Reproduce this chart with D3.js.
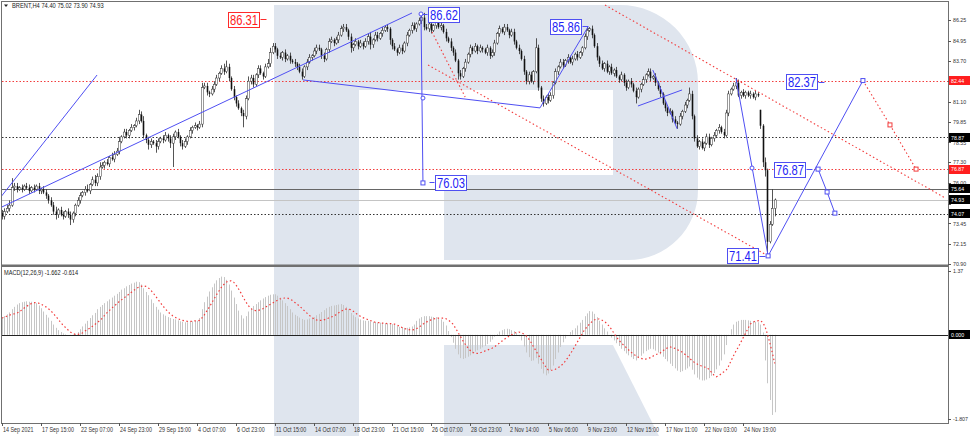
<!DOCTYPE html>
<html>
<head>
<meta charset="utf-8">
<script src="https://cdnjs.cloudflare.com/ajax/libs/d3/7.8.5/d3.min.js"></script>
<style>
html,body{margin:0;padding:0;background:#fff;}
svg{display:block;font-family:"Liberation Sans",Arial,sans-serif;}
</style>
</head>
<body>
<svg id="chart" width="973" height="436"></svg>
<script>
// ---------- DATA ----------
const symbol = "BRENT,H4";
const closes = [
73.9,74.2,74.4,74.6,75.7,75.8,75.6,75.7,75.6,75.8,
75.7,75.5,75.7,75.6,75.8,75.5,75.6,75.4,75.2,74.9,
74.6,74.2,74.0,74.3,74.0,73.9,74.2,74.0,73.7,74.1,
74.6,74.9,75.2,75.4,75.6,75.5,75.9,76.2,76.0,76.4,
77.0,77.1,77.3,77.2,77.6,77.5,77.8,78.0,78.6,78.9,
79.2,79.0,79.3,79.5,79.6,79.9,80.3,79.9,79.0,78.7,
78.4,78.6,78.5,78.3,78.6,78.8,78.7,79.0,78.8,78.5,
78.9,79.2,78.9,78.5,78.3,78.6,78.9,79.3,79.5,79.6,
79.5,79.7,82.0,82.1,81.7,81.6,81.9,82.2,82.6,82.9,
83.2,83.0,83.3,82.6,81.9,81.4,81.0,80.7,80.4,80.2,
81.3,82.4,82.6,82.2,82.8,83.2,82.9,82.7,83.3,83.5,
84.2,84.6,84.4,84.0,83.9,84.2,83.8,84.0,83.7,83.6,
83.5,83.3,83.0,82.7,83.3,83.6,83.9,84.0,84.3,84.5,
84.4,84.0,83.8,84.4,84.9,85.0,84.8,85.0,85.3,85.7,
85.8,85.6,85.2,84.5,84.7,84.9,84.6,84.8,84.6,84.9,
85.2,84.7,85.0,85.3,85.1,85.4,85.6,85.8,85.7,85.0,
84.6,84.4,84.2,84.5,84.3,84.8,85.3,85.6,85.9,85.7,
86.0,86.2,86.4,85.8,85.7,86.0,85.6,85.9,86.1,85.8,
85.9,85.5,85.1,84.9,84.5,84.2,83.7,82.9,82.7,83.2,
83.6,84.1,84.5,84.3,84.6,84.3,84.5,84.4,84.2,84.5,
84.0,84.2,84.8,85.4,85.7,85.5,85.8,85.6,85.3,85.5,
84.9,84.5,84.3,83.8,83.0,82.4,82.8,82.4,83.0,84.5,
82.0,81.3,81.0,81.4,81.2,81.5,82.3,83.0,83.3,83.6,
83.4,83.7,83.9,83.6,83.8,84.1,83.9,84.2,84.5,85.2,
85.6,85.7,85.3,84.6,83.9,83.5,83.2,83.5,83.0,83.3,
82.9,83.1,82.7,82.5,82.8,82.3,82.0,82.4,82.2,81.8,
81.4,81.9,82.2,82.5,82.8,83.0,82.6,82.7,82.3,81.9,
81.6,81.0,80.7,80.4,80.5,80.0,79.8,79.7,80.2,80.5,
80.9,81.2,81.6,80.2,78.8,78.3,78.6,78.2,78.5,78.9,
78.4,78.8,79.0,79.3,79.5,79.2,79.0,80.4,81.6,81.9,
82.1,82.3,81.5,81.7,81.5,81.7,81.5,81.6,81.4,81.6,
81.5,79.6,77.3,76.8,72.3,73.4,74.4,74.93];
const upWicks = [
0.2,0.2,0.2,0.3,0.6,0.2,0.2,0.1,0.2,0.1,
0.2,0.2,0.1,0.2,0.1,0.2,0.1,0.2,0.2,0.1,
0.2,0.2,0.3,0.1,0.2,0.2,0.1,0.2,0.2,0.1,
0.1,0.2,0.2,0.1,0.2,0.3,0.1,0.2,0.3,0.2,
0.3,0.2,0.1,0.2,0.1,0.3,0.2,0.2,0.3,0.1,
0.2,0.2,0.1,0.2,0.1,0.2,0.3,0.2,0.3,0.1,
0.2,0.2,0.1,0.2,0.2,0.1,0.2,0.2,0.1,0.2,
0.2,0.1,0.2,0.1,0.2,0.2,0.1,0.2,0.1,0.2,
0.1,0.2,0.3,0.2,0.2,0.1,0.2,0.2,0.2,0.1,
0.2,0.3,0.4,0.2,0.1,0.2,0.1,0.2,0.1,0.2,
0.2,0.3,0.2,0.2,0.1,0.2,0.2,0.1,0.2,0.3,
0.3,0.2,0.2,0.1,0.2,0.1,0.2,0.1,0.2,0.1,
0.2,0.1,0.2,0.2,0.1,0.2,0.2,0.1,0.2,0.2,
0.2,0.1,0.2,0.1,0.2,0.2,0.1,0.2,0.2,0.2,
0.2,0.2,0.1,0.2,0.1,0.2,0.1,0.2,0.1,0.2,
0.2,0.3,0.1,0.2,0.2,0.1,0.2,0.1,0.2,0.1,
0.1,0.2,0.1,0.2,0.2,0.1,0.2,0.1,0.2,0.2,
0.1,0.2,0.22,0.3,0.2,0.1,0.3,0.1,0.2,0.2,
0.2,0.1,0.2,0.1,0.2,0.1,0.2,0.1,0.2,0.1,
0.2,0.1,0.2,0.1,0.2,0.1,0.2,0.1,0.1,0.2,
0.1,0.2,0.2,0.1,0.2,0.1,0.2,0.2,0.1,0.2,
0.2,0.1,0.2,0.1,0.2,0.1,0.2,0.2,0.1,0.6,
0.2,0.1,0.2,0.1,0.2,0.2,0.1,0.2,0.1,0.2,
0.2,0.1,0.2,0.1,0.2,0.1,0.2,0.1,0.1,0.2,
0.26,0.1,0.2,0.1,0.2,0.1,0.2,0.1,0.2,0.1,
0.2,0.1,0.2,0.1,0.2,0.1,0.2,0.1,0.2,0.1,
0.2,0.1,0.1,0.2,0.1,0.2,0.2,0.1,0.2,0.1,
0.2,0.1,0.2,0.1,0.2,0.1,0.2,0.1,0.2,0.1,
0.2,0.1,0.4,0.2,0.1,0.2,0.1,0.2,0.1,0.2,
0.2,0.1,0.2,0.1,0.2,0.1,0.2,0.2,0.2,0.1,
0.2,0.3,0.2,0.1,0.2,0.1,0.1,0.2,0.1,0.2,
0.1,0.0,0.1,0.3,0.1,0.2,1.2,0.09];
const downWicks = [
0.2,0.2,0.1,0.2,0.1,0.2,0.2,0.1,0.2,0.1,
0.1,0.2,0.1,0.2,0.1,0.2,0.2,0.1,0.2,0.2,
0.1,0.2,0.3,0.2,0.1,0.2,0.1,0.2,0.35,0.2,
0.2,0.1,0.2,0.1,0.2,0.1,0.2,0.1,0.2,0.2,
0.2,0.1,0.2,0.1,0.2,0.1,0.2,0.1,0.2,0.1,
0.1,0.2,0.2,0.1,0.2,0.1,0.2,0.1,0.2,0.2,
0.3,0.2,0.1,0.4,0.2,0.1,0.2,0.1,0.2,0.3,
1.5,0.2,0.1,0.2,0.2,0.1,0.2,0.1,0.2,0.1,
0.2,0.1,0.2,0.1,0.2,0.2,0.1,0.2,0.1,0.2,
0.1,0.2,0.1,0.2,0.1,0.2,0.2,0.1,0.2,0.7,
0.2,0.1,0.2,0.2,0.1,0.2,0.1,0.2,0.1,0.1,
0.2,0.1,0.2,0.2,0.1,0.2,0.2,0.1,0.2,0.1,
0.2,0.2,0.1,0.2,0.1,0.2,0.1,0.2,0.1,0.2,
0.1,0.2,0.2,0.1,0.2,0.1,0.2,0.1,0.2,0.1,
0.2,0.1,0.2,0.3,0.2,0.1,0.2,0.1,0.2,0.1,
0.2,0.3,0.2,0.1,0.2,0.1,0.2,0.1,0.2,0.3,
0.2,0.1,0.2,0.1,0.2,0.1,0.2,0.1,0.2,0.1,
0.2,0.1,0.2,0.2,0.1,0.2,0.2,0.1,0.2,0.1,
0.2,0.1,0.2,0.1,0.2,0.2,0.1,0.4,0.2,0.1,
0.2,0.1,0.2,0.2,0.1,0.2,0.1,0.2,0.1,0.2,
0.2,0.1,0.2,0.1,0.2,0.1,0.2,0.1,0.2,0.1,
0.2,0.1,0.2,0.1,0.2,0.2,0.2,0.1,0.2,0.1,
0.2,0.2,0.2,0.1,0.2,0.1,0.2,0.1,0.2,0.1,
0.2,0.1,0.2,0.1,0.2,0.1,0.2,0.1,0.2,0.1,
0.2,0.1,0.2,0.1,0.2,0.2,0.1,0.2,0.1,0.2,
0.1,0.2,0.1,0.2,0.1,0.2,0.2,0.1,0.2,0.1,
0.4,0.1,0.2,0.1,0.2,0.1,0.2,0.1,0.2,0.1,
0.2,0.1,0.2,0.2,0.1,0.2,0.1,0.3,0.1,0.2,
0.1,0.2,0.1,0.2,0.2,0.1,0.2,0.1,0.2,0.1,
0.2,0.1,0.2,0.1,0.2,0.1,0.2,0.1,0.2,0.1,
0.1,0.2,0.1,0.2,0.1,0.2,0.1,0.2,0.1,0.2,
0.1,0.2,0.3,0.4,0.89,0.1,0.1,0.50];
const gapOpens = [[0, 74.1], [311, 80.6]];   // [bar index, open] where open != previous close

const macdMain = [
0.37,0.40,0.44,0.48,0.55,0.60,0.65,0.68,0.70,0.71,
0.72,0.71,0.71,0.70,0.68,0.63,0.57,0.50,0.43,0.37,
0.30,0.22,0.15,0.10,0.06,0.03,0.01,0.00,-0.01,0.00,
0.02,0.06,0.12,0.18,0.24,0.30,0.36,0.42,0.47,0.55,
0.60,0.64,0.68,0.72,0.76,0.80,0.84,0.88,0.92,0.97,
1.00,1.04,1.07,1.10,1.12,1.14,1.13,1.08,1.00,0.92,
0.85,0.76,0.68,0.60,0.54,0.48,0.44,0.41,0.38,0.36,
0.34,0.33,0.31,0.29,0.28,0.27,0.27,0.28,0.29,0.30,
0.30,0.36,0.55,0.70,0.82,0.93,1.02,1.10,1.17,1.22,
1.25,1.24,1.18,1.08,0.95,0.80,0.66,0.52,0.42,0.35,
0.40,0.50,0.57,0.62,0.66,0.70,0.74,0.78,0.81,0.84,
0.86,0.87,0.87,0.84,0.80,0.74,0.68,0.62,0.55,0.48,
0.43,0.40,0.37,0.34,0.32,0.33,0.35,0.36,0.38,0.42,
0.45,0.49,0.53,0.57,0.60,0.62,0.63,0.64,0.65,0.66,
0.64,0.60,0.55,0.47,0.42,0.38,0.35,0.33,0.31,0.30,
0.30,0.29,0.28,0.27,0.26,0.26,0.25,0.25,0.24,0.24,
0.23,0.21,0.19,0.17,0.16,0.15,0.15,0.16,0.18,0.22,
0.30,0.35,0.38,0.40,0.40,0.40,0.39,0.38,0.38,0.36,
0.33,0.28,0.20,0.08,-0.05,-0.17,-0.30,-0.42,-0.50,-0.52,
-0.50,-0.47,-0.44,-0.40,-0.36,-0.33,-0.30,-0.27,-0.24,-0.20,
-0.15,-0.10,-0.04,0.02,0.07,0.10,0.12,0.13,0.12,0.10,
0.08,0.04,-0.03,-0.12,-0.25,-0.38,-0.48,-0.56,-0.55,-0.50,
-0.62,-0.73,-0.83,-0.87,-0.83,-0.76,-0.66,-0.52,-0.38,-0.26,
-0.16,-0.08,0.00,0.06,0.10,0.14,0.20,0.26,0.32,0.40,
0.46,0.51,0.50,0.45,0.38,0.30,0.22,0.14,0.07,0.00,
-0.06,-0.12,-0.18,-0.24,-0.30,-0.35,-0.40,-0.44,-0.48,-0.52,
-0.55,-0.50,-0.45,-0.40,-0.35,-0.32,-0.30,-0.31,-0.34,-0.38,
-0.42,-0.47,-0.52,-0.57,-0.62,-0.67,-0.72,-0.77,-0.80,-0.78,
-0.75,-0.72,-0.68,-0.75,-0.85,-0.92,-0.96,-0.98,-0.98,-0.96,
-0.93,-0.88,-0.82,-0.74,-0.66,-0.55,-0.42,-0.22,-0.02,0.12,
0.22,0.28,0.30,0.32,0.32,0.32,0.31,0.30,0.29,0.28,
0.27,0.22,0.05,-0.55,-1.04,-1.40,-1.72,-1.662];
const macdSignal = [
0.36,0.38,0.40,0.42,0.44,0.45,0.46,0.49,0.53,0.57,
0.61,0.64,0.67,0.69,0.69,0.68,0.66,0.63,0.60,0.56,
0.52,0.46,0.40,0.34,0.27,0.21,0.16,0.11,0.06,0.03,
0.01,0.01,0.02,0.04,0.08,0.11,0.14,0.18,0.22,0.26,
0.30,0.35,0.41,0.47,0.52,0.57,0.62,0.66,0.71,0.75,
0.79,0.83,0.87,0.91,0.95,0.99,1.02,1.04,1.05,1.04,
1.01,0.96,0.90,0.83,0.76,0.69,0.62,0.56,0.50,0.45,
0.41,0.38,0.35,0.33,0.31,0.30,0.29,0.29,0.29,0.30,
0.30,0.31,0.36,0.43,0.51,0.59,0.68,0.77,0.86,0.94,
1.02,1.08,1.13,1.16,1.16,1.13,1.07,0.99,0.90,0.80,
0.71,0.63,0.57,0.53,0.52,0.52,0.54,0.56,0.59,0.62,
0.65,0.68,0.71,0.74,0.77,0.78,0.79,0.79,0.77,0.74,
0.70,0.66,0.62,0.57,0.52,0.47,0.42,0.38,0.34,0.32,
0.31,0.31,0.32,0.34,0.36,0.38,0.40,0.43,0.47,0.50,
0.53,0.55,0.55,0.54,0.51,0.47,0.43,0.40,0.37,0.35,
0.33,0.31,0.29,0.27,0.26,0.26,0.25,0.25,0.24,0.24,
0.24,0.23,0.21,0.19,0.16,0.14,0.12,0.11,0.10,0.11,
0.13,0.16,0.20,0.24,0.27,0.30,0.32,0.34,0.35,0.36,
0.36,0.36,0.35,0.32,0.28,0.23,0.15,0.06,-0.03,-0.12,
-0.20,-0.27,-0.33,-0.37,-0.40,-0.40,-0.39,-0.37,-0.35,-0.33,
-0.31,-0.29,-0.26,-0.22,-0.18,-0.14,-0.10,-0.06,-0.03,0.00,
0.03,0.05,0.06,0.05,0.02,-0.02,-0.08,-0.16,-0.25,-0.34,
-0.43,-0.51,-0.60,-0.68,-0.75,-0.76,-0.76,-0.74,-0.71,-0.68,
-0.63,-0.57,-0.50,-0.42,-0.34,-0.25,-0.16,-0.07,0.02,0.11,
0.17,0.23,0.28,0.32,0.34,0.34,0.32,0.29,0.25,0.19,
0.12,0.04,-0.04,-0.11,-0.17,-0.22,-0.27,-0.32,-0.37,-0.41,
-0.45,-0.48,-0.50,-0.52,-0.52,-0.51,-0.49,-0.46,-0.43,-0.41,
-0.39,-0.35,-0.31,-0.28,-0.26,-0.27,-0.29,-0.32,-0.34,-0.37,
-0.41,-0.45,-0.50,-0.55,-0.59,-0.62,-0.65,-0.67,-0.69,-0.70,
-0.74,-0.80,-0.86,-0.90,-0.88,-0.84,-0.80,-0.77,-0.68,-0.57,
-0.46,-0.36,-0.27,-0.17,-0.07,0.03,0.13,0.23,0.27,0.29,
0.30,0.31,0.27,0.18,0.02,-0.17,-0.38,-0.614];

const timeLabels = ["14 Sep 2021","17 Sep 15:00","22 Sep 07:00","24 Sep 23:00","29 Sep 15:00",
"4 Oct 07:00","6 Oct 23:00","11 Oct 15:00","14 Oct 07:00","18 Oct 23:00","21 Oct 15:00",
"26 Oct 07:00","28 Oct 23:00","2 Nov 14:00","5 Nov 06:00","9 Nov 23:00","12 Nov 15:00",
"17 Nov 11:00","22 Nov 03:00","24 Nov 19:00"];
const barsPerTimeLabel = 16;
const priceTicks = [86.25,84.95,83.70,82.40,81.10,79.85,78.55,77.30,76.00,74.70,73.45,72.15,70.90];
const macdTicks = [1.37, -1.807];
const redLevels = [82.44, 76.87];
const blackDottedLevels = [78.87, 74.07];
const solidLevel = 75.64;
const bidLevel = 74.93;

// annotation objects, in [bar index, price]
const blueLines = [
  [[-0.82,75.05],[39,82.79]],
  [[0,74.49],[168.2,86.69]],
  [[123.5,82.48],[220.7,80.72],[240.4,85.81]],
  [[171.9,86.63],[172.7,76.0]],
  [[260.9,80.84],[279,81.85]],
  [[267,83.1],[277,79.4]],
  [[301.1,82.6],[314.3,71.41],[353.2,82.44]],
  [[334.8,76.87],[338.5,75.43],[341.7,74.10]]
];
const redDottedLines = [
  [[174.8,83.42],[314.3,71.41]],
  [[176.4,85.5],[190,81.41]],
  [[247.4,87.19],[386.9,75.06]],
  [[353.2,82.44],[364.3,79.65],[375,76.87]]
];
const blueCircles = [[171.9,86.63],[172.7,81.34],[307.7,76.94]];
const blueSquares = [[172.7,76.0],[314.3,71.41],[334.8,76.87],[338.5,75.43],[341.7,74.10],[353.2,82.44]];
const redSquares = [[364.3,79.65],[375,76.87]];
// labels: [text, bar index of box left edge, price]
const labelsPointRight = [["85.86",224.8,85.86],["82.37",321.6,82.37],["76.87",316.7,76.87],["71.41",297.4,71.41]];
const labelsPointLeft = [["86.62",174.8,86.62],["76.03",177.6,76.03]];
const redLabels = [["86.31",92.7,86.31]];

// ---------- DRAW ----------
const svg = d3.select("#chart");
const L = 2, R = 948, T = 2, MB = 265, MT = 267, B = 423;
const barStep = 2.4375;
const n = closes.length;
const x = d3.scaleLinear().domain([0, n - 1]).range([L, L + barStep * (n - 1)]);
const y = d3.scaleLinear().domain([70.90, 86.25]).range([264, 20]);
const ym = d3.scaleLinear().domain([-1.807, 1.37]).range([419, 271]);
const crisp = v => Math.round(v) + 0.5;
function condense(sel, f) {
  sel.each(function () {
    const w = this.getComputedTextLength();
    d3.select(this).attr("textLength", w * f).attr("lengthAdjust", "spacingAndGlyphs");
  });
}

const BLUE = "#4f4ff2", BLUE_TXT = "#1f1ff5", RED = "#f23c3c";

const defs = svg.append("defs");
defs.append("clipPath").attr("id","clipMain").append("rect").attr("x",L).attr("y",T).attr("width",R-L).attr("height",MB-T);
defs.append("clipPath").attr("id","clipMacd").append("rect").attr("x",L).attr("y",MT).attr("width",R-L).attr("height",B-MT);

svg.append("rect").attr("width",973).attr("height",436).attr("fill","#fff");

// watermark logo
const wm = svg.append("g").attr("fill","#dfe5ee");
wm.append("path").attr("d","M274,5H620A78,78 0 0 1 698,83V190A70,70 0 0 1 628,260H444V175H613V90H359V436H274Z");
wm.append("path").attr("d","M444,345H613L659,436H444Z");

// bars
const bars = closes.map((c, i) => {
  let o = i > 0 ? closes[i-1] : c;
  const g = gapOpens.find(d => d[0] === i);
  if (g) o = g[1];
  return {i, o, c, h: Math.max(o, c) + upWicks[i], l: Math.min(o, c) - downWicks[i]};
});

const gMain = svg.append("g").attr("clip-path","url(#clipMain)");

// horizontal levels
redLevels.forEach(p => gMain.append("line").attr("x1",L).attr("x2",R).attr("y1",crisp(y(p))).attr("y2",crisp(y(p)))
  .attr("stroke",RED).attr("stroke-dasharray","1.5,2"));
blackDottedLevels.forEach(p => gMain.append("line").attr("x1",L).attr("x2",R).attr("y1",crisp(y(p))).attr("y2",crisp(y(p)))
  .attr("stroke","#333").attr("stroke-dasharray","1.5,2"));
gMain.append("line").attr("x1",L).attr("x2",R).attr("y1",crisp(y(solidLevel))).attr("y2",crisp(y(solidLevel))).attr("stroke","#666");
gMain.append("line").attr("x1",L).attr("x2",R).attr("y1",crisp(y(bidLevel))).attr("y2",crisp(y(bidLevel))).attr("stroke","#c4c4c4");

// candles
const gC = gMain.append("g");
gC.selectAll("line.w").data(bars).join("line").attr("class","w")
  .attr("x1", d => crisp(x(d.i))).attr("x2", d => crisp(x(d.i)))
  .attr("y1", d => y(d.h)).attr("y2", d => y(d.l)).attr("stroke","#2a2a2a").attr("stroke-width",0.8);
gC.selectAll("rect.b").data(bars).join("rect").attr("class","b")
  .attr("x", d => crisp(x(d.i)) - 0.8)
  .attr("width", 1.6)
  .attr("y", d => y(Math.max(d.o, d.c)))
  .attr("height", d => Math.max(0.8, Math.abs(y(d.o) - y(d.c))))
  .attr("fill", d => d.c >= d.o ? "#fff" : "#111")
  .attr("stroke", "#333").attr("stroke-width", d => d.c >= d.o ? 0.5 : 0);

// annotation lines
const line = d3.line().x(d => x(d[0])).y(d => y(d[1]));
redDottedLines.forEach(pts => gMain.append("path").attr("d", line(pts)).attr("fill","none")
  .attr("stroke",RED).attr("stroke-width",1.1).attr("stroke-dasharray","1.5,2.5"));
blueLines.forEach(pts => gMain.append("path").attr("d", line(pts)).attr("fill","none").attr("stroke",BLUE).attr("stroke-width",1));
blueCircles.forEach(p => gMain.append("circle").attr("cx",x(p[0])).attr("cy",y(p[1])).attr("r",2)
  .attr("fill","#fff").attr("stroke",BLUE));
blueSquares.forEach(p => gMain.append("rect").attr("x",x(p[0])-2).attr("y",y(p[1])-2).attr("width",4).attr("height",4)
  .attr("fill","#fff").attr("stroke",BLUE));
redSquares.forEach(p => gMain.append("rect").attr("x",x(p[0])-2).attr("y",y(p[1])-2).attr("width",4).attr("height",4)
  .attr("fill","#fff").attr("stroke",RED));

// labels
function drawLabel(lbl, color, txtColor, side) {
  const bx = Math.round(x(lbl[1])) + 0.5, cy = y(lbl[2]);
  const top = Math.round(cy - 7.5) + 0.5;
  const g = svg.append("g");
  g.append("rect").attr("x",bx).attr("y",top).attr("width",31).attr("height",15).attr("fill","#fff").attr("stroke",color);
  g.append("text").attr("x",bx+1.5).attr("y",top+12.5).attr("font-size",15).attr("textLength",28)
    .attr("lengthAdjust","spacingAndGlyphs").attr("fill",txtColor).text(lbl[0]);
  const yy = crisp(cy);
  if (side === "right") g.append("line").attr("x1",bx+32).attr("x2",bx+38).attr("y1",yy).attr("y2",yy).attr("stroke",color);
  else g.append("line").attr("x1",bx-6).attr("x2",bx-1).attr("y1",yy).attr("y2",yy).attr("stroke",color);
}
labelsPointRight.forEach(l => drawLabel(l, BLUE, BLUE_TXT, "right"));
labelsPointLeft.forEach(l => drawLabel(l, BLUE, BLUE_TXT, "left"));
redLabels.forEach(l => drawLabel(l, "#ff2a2a", "#ff1a1a", "right"));

// MACD panel
const gM = svg.append("g").attr("clip-path","url(#clipMacd)");
gM.selectAll("line.h").data(macdMain).join("line").attr("class","h")
  .attr("x1", (d,i) => crisp(x(i))).attr("x2", (d,i) => crisp(x(i)))
  .attr("y1", ym(0)).attr("y2", d => ym(d)).attr("stroke","#c6c6c6").attr("stroke-width",1);
gM.append("line").attr("x1",L).attr("x2",R).attr("y1",crisp(ym(0))).attr("y2",crisp(ym(0))).attr("stroke","#222");
gM.append("path").attr("d", d3.line().x((d,i) => x(i)).y(d => ym(d))(macdSignal)).attr("fill","none")
  .attr("stroke",RED).attr("stroke-width",1.2).attr("stroke-dasharray","1.5,2.5");

// frames
svg.append("rect").attr("x",1.5).attr("y",1.5).attr("width",R-1).attr("height",MB-1).attr("fill","none").attr("stroke","#707070");
svg.append("rect").attr("x",1.5).attr("y",266.5).attr("width",R-1).attr("height",B-266).attr("fill","none").attr("stroke","#707070");
svg.append("line").attr("x1",1).attr("x2",R+1).attr("y1",265.5).attr("y2",265.5).attr("stroke","#707070").attr("stroke-width",2);

// header texts
const last = bars[n-1];
const hdr = svg.append("g").attr("font-size",6.4).attr("fill","#222");
hdr.append("path").attr("d","M4,4.5L8,4.5L6,7Z").attr("fill","#222");
hdr.append("text").attr("x",12).attr("y",8).text(`${symbol}  ${last.o.toFixed(2)} ${last.h.toFixed(2)} ${last.l.toFixed(2)} ${last.c.toFixed(2)}`)
  .call(condense, 0.9);
hdr.append("text").attr("x",4).attr("y",275).text(`MACD(12,26,9) ${macdMain[n-1].toFixed(3)} ${macdSignal[n-1].toFixed(3)}`)
  .call(condense, 0.88);

// right price axis
const boxLevels = [...redLevels, ...blackDottedLevels, solidLevel, bidLevel];
const ax = svg.append("g").attr("font-size",6.2).attr("fill","#333");
priceTicks.forEach(p => {
  ax.append("line").attr("x1",R).attr("x2",R+3).attr("y1",crisp(y(p))).attr("y2",crisp(y(p))).attr("stroke","#555");
  const hidden = boxLevels.some(b => Math.abs(y(b) - y(p)) < 5);
  if (!hidden) ax.append("text").attr("x",953).attr("y",y(p)+2.2).text(p.toFixed(2)).call(condense, 0.85);
});
macdTicks.forEach(v => {
  ax.append("line").attr("x1",R).attr("x2",R+3).attr("y1",crisp(ym(v))).attr("y2",crisp(ym(v))).attr("stroke","#555");
  ax.append("text").attr("x",953).attr("y",ym(v)+2.2).text(v === 1.37 ? "1.37" : v.toFixed(3)).call(condense, 0.85);
});
function axisBox(v, scale, fill, txt) {
  const cy = scale(v);
  ax.append("rect").attr("x",949).attr("y",Math.round(cy-4.5)).attr("width",21).attr("height",9).attr("fill",fill);
  ax.append("text").attr("x",951).attr("y",cy+2.2).attr("fill","#fff").text(txt).call(condense, 0.85);
}
redLevels.forEach(p => axisBox(p, y, "#ff1e1e", p.toFixed(2)));
[...blackDottedLevels, solidLevel, bidLevel].forEach(p => axisBox(p, y, "#000", p.toFixed(2)));
axisBox(0, ym, "#000", (0).toFixed(3));

// time axis
const tx = svg.append("g").attr("font-size",6.4).attr("fill","#333");
timeLabels.forEach((t, k) => {
  const xi = crisp(x(k * barsPerTimeLabel));
  tx.append("line").attr("x1",xi).attr("x2",xi).attr("y1",B).attr("y2",B+3).attr("stroke","#555");
  tx.append("text").attr("x",xi+0.5).attr("y",432).text(t).call(condense, 0.84);
});
</script>
</body>
</html>
